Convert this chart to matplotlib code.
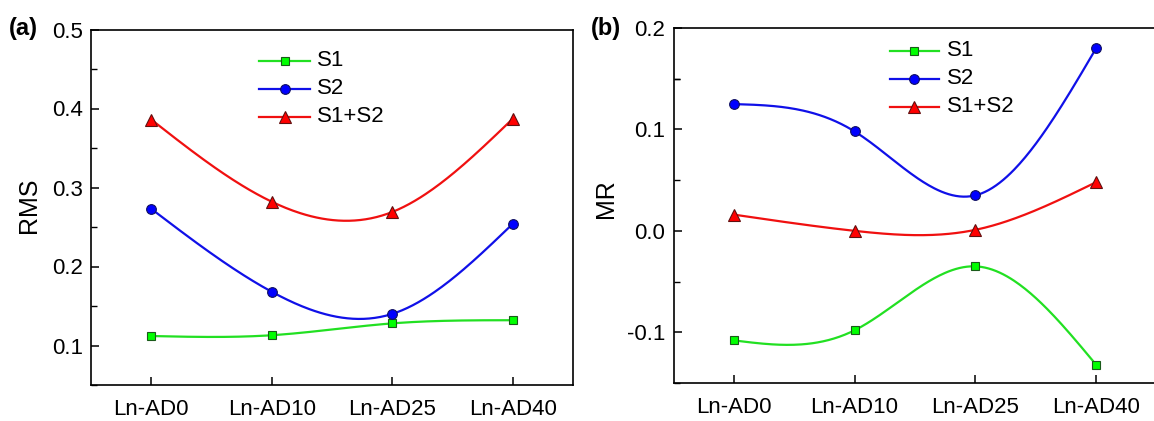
import numpy as np
import matplotlib
matplotlib.use("Agg")
import matplotlib.pyplot as plt

categories = ["Ln-AD0", "Ln-AD10", "Ln-AD25", "Ln-AD40"]

rms_s1 = [0.112, 0.113, 0.128, 0.132]
rms_s2 = [0.273, 0.168, 0.140, 0.254]
rms_s12 = [0.386, 0.282, 0.269, 0.387]

mr_s1 = [-0.108, -0.098, -0.035, -0.132]
mr_s2 = [0.125, 0.098, 0.035, 0.180]
mr_s12 = [0.016, 0.000, 0.001, 0.048]

rms_ticks = [0.1, 0.2, 0.3, 0.4, 0.5]
mr_ticks = [-0.1, 0.0, 0.1, 0.2]

plt.rcParams['font.family'] = ['Liberation Sans', 'DejaVu Sans']

FS = 16


def natural_spline(x, y, n=200):
    x = np.asarray(x, float)
    y = np.asarray(y, float)
    m = len(x)
    h = np.diff(x)
    A = np.zeros((m, m))
    b = np.zeros(m)
    A[0, 0] = 1
    A[-1, -1] = 1
    for i in range(1, m - 1):
        A[i, i - 1] = h[i - 1]
        A[i, i] = 2 * (h[i - 1] + h[i])
        A[i, i + 1] = h[i]
        b[i] = 6 * ((y[i + 1] - y[i]) / h[i] - (y[i] - y[i - 1]) / h[i - 1])
    M = np.linalg.solve(A, b)
    xs = np.linspace(x[0], x[-1], n)
    ys = np.empty_like(xs)
    for k, t in enumerate(xs):
        i = min(np.searchsorted(x, t, side='right') - 1, m - 2)
        i = max(i, 0)
        dx1 = x[i + 1] - t
        dx0 = t - x[i]
        hi = h[i]
        ys[k] = (M[i] * dx1 ** 3 / (6 * hi) + M[i + 1] * dx0 ** 3 / (6 * hi)
                 + (y[i] / hi - M[i] * hi / 6) * dx1
                 + (y[i + 1] / hi - M[i + 1] * hi / 6) * dx0)
    return xs, ys


W, H = 1154, 421
fig = plt.figure(figsize=(W / 100, H / 100), dpi=100)
fig.patch.set_facecolor('white')


def px_axes(left, right, top, bottom):
    return fig.add_axes([left / W, (H - bottom) / H, (right - left) / W, (bottom - top) / H])


styles = [
    dict(label="S1", color='#22e022', marker='s', mfc='#00ff00', mec='#1a5a1a', ms=6),
    dict(label="S2", color='#1010e8', marker='o', mfc='#0000ff', mec='#101060', ms=7),
    dict(label="S1+S2", color='#f01010', marker='^', mfc='#ff0000', mec='#601010', ms=8),
]


def draw(ax, series, legend_pos):
    xi = np.arange(len(categories))
    for ys, st in zip(series, styles):
        sx, sy = natural_spline(xi, ys)
        ax.plot(sx, sy, color=st['color'], lw=1.6, zorder=2)
        ax.plot(xi, ys, linestyle='none', marker=st['marker'], ms=st['ms'],
                mfc=st['mfc'], mec=st['mec'], mew=0.8, zorder=3)
    ax.set_xlim(-0.5, 3.5)
    ax.set_xticks(xi)
    ax.set_xticklabels(categories)
    ax.tick_params(axis='both', direction='in', labelsize=FS, width=1.1, length=6)
    ax.tick_params(axis='x', pad=10)
    ax.tick_params(axis='y', pad=6)
    ax.tick_params(which='minor', direction='in', length=4, width=1.0)
    for s in ax.spines.values():
        s.set_linewidth(1.2)
    (lx0, lx1, tx, rows) = legend_pos
    for (ry, st) in zip(rows, styles):
        ax.plot([lx0, lx1], [ry, ry], transform=ax.transAxes, color=st['color'], lw=1.6,
                clip_on=False, zorder=4)
        ax.plot([(lx0 + lx1) / 2], [ry], transform=ax.transAxes, marker=st['marker'],
                ms=st['ms'], mfc=st['mfc'], mec=st['mec'], mew=0.8, clip_on=False, zorder=5)
        ax.text(tx, ry, st['label'], transform=ax.transAxes, fontsize=FS,
                ha='left', va='center')


# Panel (a)
axL, axR, axT, axB = 91, 573, 29.5, 385
ax1 = px_axes(axL, axR, axT, axB)
ax1.set_ylim(0.05, 0.5)
ax1.set_yticks(rms_ticks)
ax1.set_yticklabels([f"{v:.1f}" for v in rms_ticks])
ax1.set_yticks([0.05 + 0.1 * k for k in range(5)], minor=True)
wa, ha = axR - axL, axB - axT
draw(ax1, [rms_s1, rms_s2, rms_s12],
     ((259 - axL) / wa, (310 - axL) / wa, (317 - axL) / wa,
      [(axB - y) / ha for y in (61, 89, 117)]))
fig.text(29 / W, 1 - 205 / H, "RMS", rotation=90, ha='center', va='center', fontsize=18)
fig.text(9 / W, 1 - 28 / H, "(a)", fontweight='bold', ha='left', va='center', fontsize=17)

# Panel (b)
bL, bR, bT, bB = 673.5, 1156.5, 28, 383
ax2 = px_axes(bL, bR, bT, bB)
ax2.set_ylim(-0.15, 0.2)
ax2.set_yticks(mr_ticks)
ax2.set_yticklabels([f"{v:.1f}" for v in mr_ticks])
ax2.set_yticks([-0.15 + 0.1 * k for k in range(4)] + [0.15], minor=True)
wb, hb = bR - bL, bB - bT
draw(ax2, [mr_s1, mr_s2, mr_s12],
     ((890 - bL) / wb, (939 - bL) / wb, (947 - bL) / wb,
      [(bB - y) / hb for y in (51, 79, 107)]))
fig.text(606 / W, 1 - 199 / H, "MR", rotation=90, ha='center', va='center', fontsize=18)
fig.text(591 / W, 1 - 28 / H, "(b)", fontweight='bold', ha='left', va='center', fontsize=17)

fig.savefig("out.png", dpi=100, facecolor='white')
